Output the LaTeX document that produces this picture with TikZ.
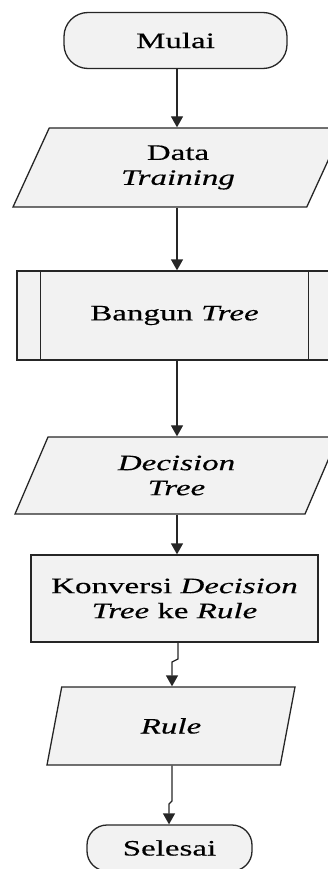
\documentclass[tikz,border=0pt]{standalone}
\usepackage{fontspec}
\setmainfont{Liberation Serif}[FakeStretch=1.5, FakeBold=0.4]
\usetikzlibrary{arrows.meta,shapes.geometric,calc}

\tikzset{
  box/.style={draw=black!85, line width=1.3pt, fill=black!5, align=center,
    font=\fontsize{22}{25}\selectfont, inner sep=2pt},
  terminal/.style={box, rectangle, rounded corners=#1},
  io/.style={box, trapezium, trapezium left angle=53, trapezium right angle=127,
    trapezium stretches body},
  process/.style={box, rectangle},
  flow/.style={draw=black!85, line width=1.3pt, -{Triangle[width=12pt,length=11pt]}}
}

\begin{document}
\begin{tikzpicture}[x=1pt, y=-1pt]
  \useasboundingbox (0,0) rectangle (327,869);

  % start / end terminals
  \node[terminal=24pt, minimum width=223pt, minimum height=56pt] (mulai) at (175.5,40.5) {Mulai};
  \node[terminal=20pt, minimum width=165pt, minimum height=46pt] (selesai) at (169.5,848) {Selesai};

  % data (input/output) symbols
  \node[io, minimum width=330pt, minimum height=79pt] (data) at (178,167.5) {Data\\\textit{Training}};
  \node[io, minimum width=323pt, minimum height=77pt] (dtree) at (176.5,475.5) {\textit{Decision}\\\textit{Tree}};
  \node[io, minimum width=248pt, minimum height=78pt] (rule) at (171,726) {\textit{Rule}};

  % predefined process
  \node[process, minimum width=315pt, minimum height=89pt] (bangun) at (174.5,315.5) {Bangun \textit{Tree}};
  \draw[draw=black!85, line width=1.3pt]
    ($(bangun.north west)+(24,0)$) -- ($(bangun.south west)+(24,0)$)
    ($(bangun.north east)+(-24,0)$) -- ($(bangun.south east)+(-24,0)$);

  % process
  \node[process, minimum width=287pt, minimum height=87pt] (konversi) at (174.5,598.5) {Konversi \textit{Decision}\\\textit{Tree} ke \textit{Rule}};

  % connectors
  \draw[flow] (mulai.south -| 177,0) -- (data.north -| 177,0);
  \draw[flow] (data.south -| 177,0) -- (bangun.north -| 177,0);
  \draw[flow] (bangun.south -| 177,0) -- (dtree.north -| 177,0);
  \draw[flow] (dtree.south -| 177,0) -- (konversi.north -| 177,0);
  \coordinate (k1) at (178,659);
  \coordinate (k2) at (172,662);
  \draw[flow] (konversi.south -| k1) -- (k1) -- (k2) -- (rule.north -| k2);
  \coordinate (r1) at (172,801);
  \coordinate (r2) at (169,804);
  \draw[flow] (rule.south -| r1) -- (r1) -- (r2) -- (selesai.north -| r2);
\end{tikzpicture}
\end{document}
